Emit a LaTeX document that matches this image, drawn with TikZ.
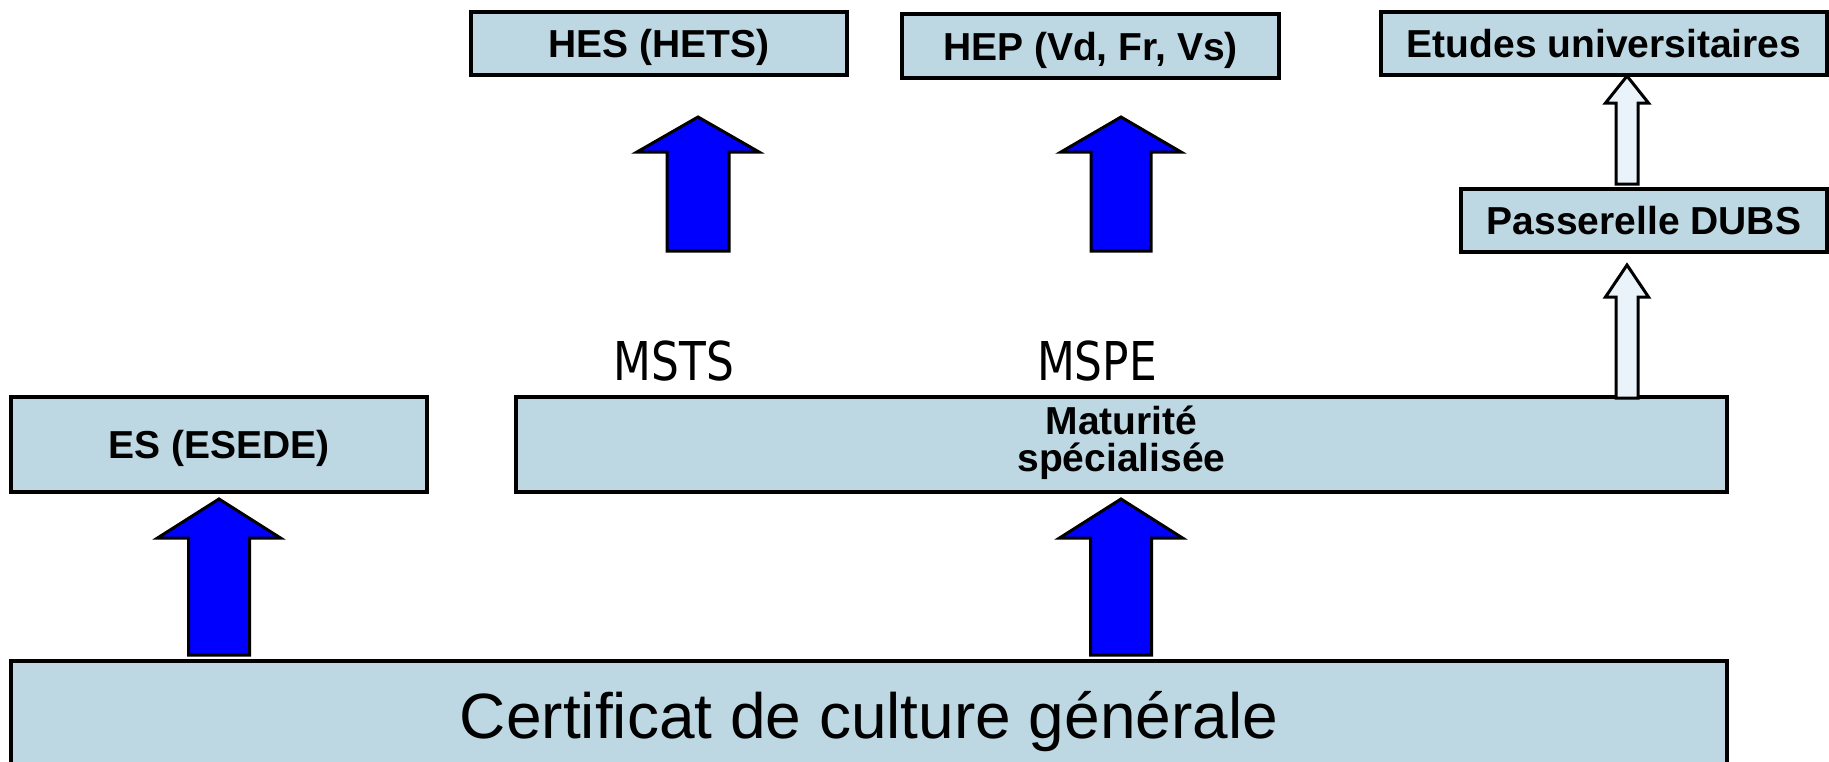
\documentclass[tikz,border=0pt]{standalone}
\usepackage{fontspec}
\setmainfont{Liberation Sans}
\newfontfamily\abbrfont[FakeStretch=0.82]{DejaVu Sans}
\definecolor{boxblue}{RGB}{189,216,226}
\definecolor{arrowblue}{RGB}{0,0,255}
\definecolor{arrowpale}{RGB}{234,242,250}
\tikzset{
  level/.style={draw=black, fill=boxblue, line width=1.6pt, inner sep=0pt,
    text height=14pt, text depth=0pt, font=\fontsize{19.5pt}{18.5pt}\selectfont\bfseries},
  bluearrow/.style={draw=black, fill=arrowblue, line width=1.5pt},
  palearrow/.style={draw=black, fill=arrowpale, line width=1.5pt},
  pics/uparrow/.style n args={4}{code={
    \draw[pic actions] (-#3,0) -- (-#3,-#1+#2) -- (-#4,-#1+#2) -- (0,-#1)
      -- (#4,-#1+#2) -- (#3,-#1+#2) -- (#3,0) -- cycle;
  }}
}
\begin{document}
\begin{tikzpicture}[x=0.5pt,y=-0.5pt]
    \useasboundingbox (0,0) rectangle (1829,761);
    \clip (0,0) rectangle (1829,761);
    % boxes
    \node[level, minimum width=188pt, minimum height=31.5pt] (hes) at (659,43.5) {HES (HETS)};
    \node[level, minimum width=188.5pt, minimum height=32pt] (hep) at (1090.5,46) {HEP (Vd, Fr, Vs)};
    \node[level, minimum width=223pt, minimum height=31.5pt] (etudes) at (1604,43.5) {Etudes universitaires};
    \node[level, minimum width=183pt, minimum height=31.5pt] (dubs) at (1644,220.5) {Passerelle DUBS};
    \node[level, minimum width=208pt, minimum height=47.5pt] (es) at (219,444.5) {ES (ESEDE)};
    \node[level, minimum width=605.5pt, minimum height=47.5pt, align=center,
      text height=30.5pt, text depth=4pt] (matu) at (1121.5,444.5) {Maturité\\spécialisée};
    \node[level, minimum width=858pt, minimum height=55pt, text height=22.6pt,
      font=\fontsize{32pt}{37pt}\selectfont] (cgc) at (869,716) {Certificat de culture générale};
    \node[font=\abbrfont\fontsize{26.75pt}{30pt}\selectfont, anchor=base] (msts) at (674,380) {MSTS};
    \node[font=\abbrfont\fontsize{26.75pt}{30pt}\selectfont, anchor=base] (mspe) at (1097,380) {MSPE};
    % arrows
    \pic[bluearrow] at (698,251) {uparrow={134}{35}{31}{61}};
    \pic[bluearrow] at (1121,251) {uparrow={134}{35}{30}{60}};
    \pic[bluearrow] at (219,655) {uparrow={156}{39}{30.5}{61.5}};
    \pic[bluearrow] at (1121,655) {uparrow={156}{39}{30.5}{61.5}};
    \pic[palearrow] at (1627,184) {uparrow={108}{27}{11}{21.5}};
    \pic[palearrow] at (1627,398) {uparrow={133}{32}{11}{21.5}};
\end{tikzpicture}
\end{document}
